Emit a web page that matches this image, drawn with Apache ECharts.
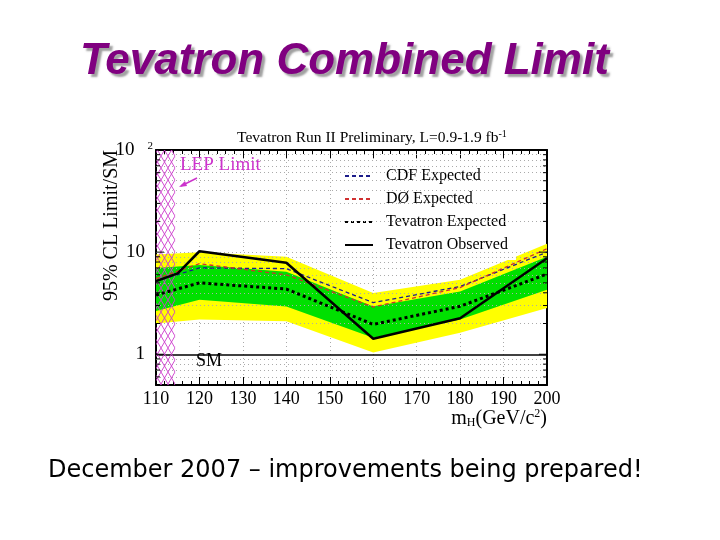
<!DOCTYPE html>
<html><head><meta charset="utf-8">
<script src="https://cdn.jsdelivr.net/npm/echarts@6/dist/echarts.min.js"></script>
<style>html,body{margin:0;padding:0;background:#fff}#c{width:720px;height:540px}</style>
</head><body><div id="c"></div>
<script>
// ---- data ----
const massBand   = [110, 120, 140, 160, 180, 200];
const yellowHi   = [9.5, 10.0, 9.0, 3.97, 5.35, 12.1];
const greenHi    = [7.0, 7.5, 6.43, 2.94, 4.12, 9.0];
const greenLo    = [2.65, 3.42, 2.94, 1.45, 2.19, 4.27];
const yellowLo   = [2.0, 2.19, 2.1, 1.04, 1.62, 2.83];
const massExp    = [110, 120, 140, 160, 180, 200];
const cdfExp     = [5.2, 7.0, 6.9, 3.2, 4.6, 10.0];
const d0Exp      = [5.5, 7.7, 6.0, 2.9, 4.5, 10.8];
const tevExp     = [3.8, 5.0, 4.35, 1.96, 2.95, 6.1];
const massObs    = [110, 115, 120, 140, 160, 180, 200];
const tevObs     = [5.2, 6.2, 10.2, 7.87, 1.42, 2.25, 8.7];
const lepLimit   = 114.4;
const xTicks     = [110, 120, 130, 140, 150, 160, 170, 180, 190, 200];
const yMajor     = [1, 10, 100];
const yMinor     = [0.6, 0.7, 0.8, 0.9, 2, 3, 4, 5, 6, 7, 8, 9, 20, 30, 40, 50, 60, 70, 80, 90];

const pair = (xs, ys) => xs.map((x, i) => [x, ys[i]]);

// hatch pattern for LEP exclusion
const hatch = (() => {
  const c = document.createElement('canvas'); c.width = 7; c.height = 12;
  const g = c.getContext('2d');
  g.strokeStyle = 'rgba(205,60,205,0.9)'; g.lineWidth = 1;
  g.beginPath(); g.moveTo(0, 0); g.lineTo(7, 12); g.moveTo(7, 0); g.lineTo(0, 12); g.stroke();
  return c;
})();

function bandSeries(name, hi, lo, color, z) {
  return {
    type: 'custom', name: name, z: z, silent: true, clip: true,
    data: [[massBand[0], lo[0]]],
    renderItem: (params, api) => {
      const up = massBand.map((m, i) => api.coord([m, hi[i]]));
      const dn = massBand.map((m, i) => api.coord([m, lo[i]])).reverse();
      return { type: 'polygon', shape: { points: up.concat(dn) }, style: { fill: color } };
    }
  };
}

const serif = 'Liberation Serif';
const isPow = (v, k) => Math.abs(Math.log10(v) - k) < 1e-6;

const chart = echarts.init(document.getElementById('c'), null, { renderer: 'canvas' });
chart.setOption({
  animation: false,
  backgroundColor: '#fff',
  title: [
    { text: 'Tevatron Combined Limit', left: 75, top: 35,
      textStyle: { fontFamily: 'Liberation Sans', fontSize: 44, fontWeight: 'bold', fontStyle: 'italic',
        color: '#800080', textShadowColor: 'rgba(120,120,120,0.7)', textShadowOffsetX: 3, textShadowOffsetY: 3, textShadowBlur: 2 } },
    { text: '{a|Tevatron Run II Preliminary, L=0.9-1.9 fb}{s|-1}', left: 232, top: 124,
      textStyle: { fontWeight: 'normal', rich: { a: { fontFamily: serif, fontSize: 15.5, fontWeight: 'normal', color: '#000' },
                           s: { fontFamily: serif, fontSize: 10, fontWeight: 'normal', color: '#000', verticalAlign: 'top', padding: [0, 0, 8, 0] } } } },
    { text: 'December 2007 – improvements being prepared!', left: 43, top: 454,
      textStyle: { fontFamily: 'DejaVu Sans', fontSize: 24, fontWeight: 'normal', color: '#000' } }
  ],
  legend: {
    left: 336, top: 161, orient: 'vertical', itemWidth: 28, itemHeight: 14, itemGap: 7,
    backgroundColor: '#fff', padding: [7, 8, 7, 8],
    itemStyle: { opacity: 0 },
    textStyle: { fontFamily: serif, fontSize: 16, color: '#000', padding: [0, 0, 0, 8] },
    data: ['CDF Expected', 'DØ Expected', 'Tevatron Expected', 'Tevatron Observed']
  },
  grid: { left: 156, top: 150, width: 391, height: 235, containLabel: false },
  xAxis: [
    { type: 'value', min: 110, max: 200, interval: 10, position: 'bottom',
      axisLine: { lineStyle: { color: '#000', width: 2 } },
      axisTick: { inside: true, length: 8, lineStyle: { color: '#000' } },
      minorTick: { show: true, splitNumber: 5, length: 4, lineStyle: { color: '#000' } },
      splitLine: { show: true, lineStyle: { color: '#aaa', type: [1, 3] } },
      axisLabel: { fontFamily: serif, fontSize: 18, color: '#000', margin: 5,
        formatter: v => xTicks.includes(v) ? String(v) : '' },
      name: '{a|m}{s|H}{a|(GeV/c}{p|2}{a|)}', nameLocation: 'end', nameGap: 0,
      nameTextStyle: { align: 'right', verticalAlign: 'top', padding: [23, 0, 0, 0],
        rich: { a: { fontFamily: serif, fontSize: 20, color: '#000' },
                s: { fontFamily: serif, fontSize: 12, color: '#000', verticalAlign: 'bottom', padding: [9, 0, 0, 0] },
                p: { fontFamily: serif, fontSize: 12, color: '#000', verticalAlign: 'top', padding: [0, 0, 9, 0] } } } },
    { type: 'value', min: 110, max: 200, interval: 10, position: 'top',
      axisLine: { lineStyle: { color: '#000', width: 2 } },
      axisTick: { inside: true, length: 8, lineStyle: { color: '#000' } },
      minorTick: { show: true, splitNumber: 5, length: 4, lineStyle: { color: '#000' } },
      splitLine: { show: false }, axisLabel: { show: false } }
  ],
  yAxis: [
    { type: 'log', logBase: 10, min: 0.5, max: 100, position: 'left',
      axisLine: { show: true, lineStyle: { color: '#000', width: 2 } },
      axisTick: { show: false }, splitLine: { show: false },
      axisLabel: { margin: 3, color: '#000', fontFamily: serif, fontSize: 19,
        formatter: v => isPow(v, 2) ? '{a|10}{s|2}' : isPow(v, 1) ? '{n|10}' : isPow(v, 0) ? '{n|1}' : '',
        rich: { a: { fontFamily: serif, fontSize: 19, color: '#000' },
                n: { fontFamily: serif, fontSize: 19, color: '#000', padding: [0, 8, 0, 0] },
                s: { fontFamily: serif, fontSize: 11, color: '#000', verticalAlign: 'top', padding: [0, 0, 8, 13] } } },
      name: '95% CL Limit/SM', nameLocation: 'middle', nameGap: 34, nameRotate: 90, nameMoveOverlap: false,
      nameTextStyle: { fontFamily: serif, fontSize: 20, color: '#000', padding: [0, 0, 0, 84] } },
    { type: 'log', logBase: 10, min: 0.5, max: 100, position: 'right',
      axisLine: { show: true, lineStyle: { color: '#000', width: 2 } },
      axisTick: { show: false }, splitLine: { show: false }, axisLabel: { show: false } }
  ],
  series: [
    { type: 'line', name: 'grid', data: [], z: 1, silent: true,
      markLine: { silent: true, symbol: 'none', label: { show: false },
        lineStyle: { color: '#aaa', type: [1, 3], width: 1 },
        data: yMinor.concat([10]).map(v => ({ yAxis: v })) } },
    bandSeries('±2σ', yellowHi, yellowLo, '#ffff00', 2),
    bandSeries('±1σ', greenHi, greenLo, '#00e000', 3),
    { type: 'custom', name: 'LEP', z: 5, silent: true, clip: true,
      data: [[110, 0.5]],
      renderItem: (params, api) => {
        const a = api.coord([110, 100]), b = api.coord([lepLimit, 0.5]);
        return { type: 'rect', shape: { x: a[0], y: a[1], width: b[0] - a[0], height: b[1] - a[1] },
          style: { fill: { image: hatch, repeat: 'repeat' } } };
      } },
    { type: 'custom', name: 'yticks', z: 10, silent: true, clip: false,
      data: yMajor.map(v => [v, 8]).concat(yMinor.map(v => [v, 4])),
      encode: { x: -1, y: 0 },
      renderItem: (params, api) => {
        const v = api.value(0), len = api.value(1);
        const l = api.coord([110, v]), r = api.coord([200, v]);
        const st = { stroke: '#000', lineWidth: 1 };
        return { type: 'group', children: [
          { type: 'line', shape: { x1: l[0], y1: l[1], x2: l[0] + len, y2: l[1] }, style: st },
          { type: 'line', shape: { x1: r[0], y1: r[1], x2: r[0] - len, y2: r[1] }, style: st } ] };
      } },
    { type: 'line', name: 'CDF Expected', data: pair(massExp, cdfExp), symbol: 'none', z: 6,
      itemStyle: { color: '#1c1c8a' }, lineStyle: { color: '#1c1c8a', width: 1.3, type: [4, 3] } },
    { type: 'line', name: 'DØ Expected', data: pair(massExp, d0Exp), symbol: 'none', z: 6,
      itemStyle: { color: '#d03030' }, lineStyle: { color: '#d03030', width: 1.3, type: [4, 3] } },
    { type: 'line', name: 'Tevatron Expected', data: pair(massExp, tevExp), symbol: 'none', z: 7,
      itemStyle: { color: '#000' }, lineStyle: { color: '#000', width: 3, type: [3, 3] } },
    { type: 'line', name: 'Tevatron Observed', data: pair(massObs, tevObs), symbol: 'none', z: 8,
      itemStyle: { color: '#000' }, lineStyle: { color: '#000', width: 2.5 },
      markLine: { silent: true, symbol: 'none', label: { show: false },
        lineStyle: { color: '#000', type: 'solid', width: 1.5 }, data: [{ yAxis: 1 }] } }
  ],
  graphic: [
    { type: 'text', left: 180, top: 156, z: 20,
      style: { text: 'LEP Limit', fontFamily: serif, fontSize: 19, fill: '#cc33cc' } },
    { type: 'line', z: 20, shape: { x1: 197, y1: 178, x2: 181, y2: 186 },
      style: { stroke: '#cc33cc', lineWidth: 1.5 } },
    { type: 'polygon', z: 20, shape: { points: [[179, 187], [185, 181], [187, 186]] },
      style: { fill: '#cc33cc' } },
    { type: 'text', left: 196, top: 352, z: 20,
      style: { text: 'SM', fontFamily: serif, fontSize: 18, fill: '#000' } }
  ]
});
</script></body></html>
